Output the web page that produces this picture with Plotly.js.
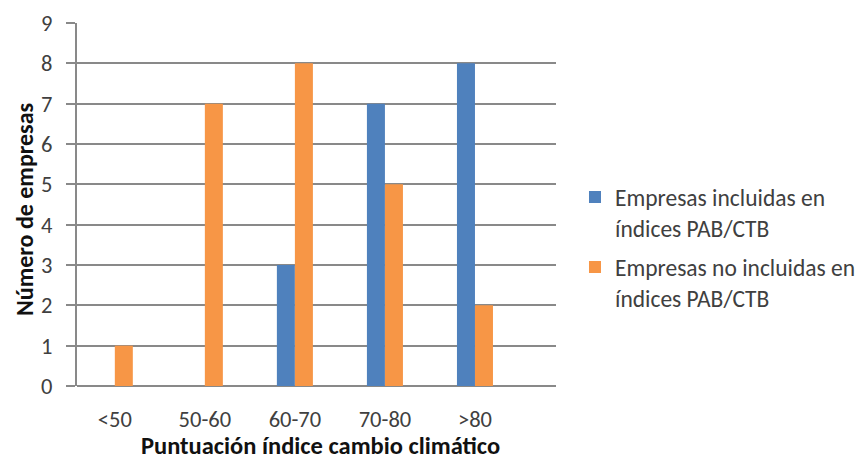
<!DOCTYPE html>
<html>
<head>
<meta charset="utf-8">
<script src="https://cdn.plot.ly/plotly-3.0.1.min.js"></script>
<style>html,body{margin:0;padding:0;background:#fff;}#chart{width:860px;height:462px;}</style>
</head>
<body>
<div id="chart"></div>
<script>
const categories = ["<50", "50-60", "60-70", "70-80", ">80"];
const incluidas = [0, 0, 3, 7, 8];
const noIncluidas = [1, 7, 8, 5, 2];
const seriesNames = ["Empresas incluidas en<br>índices PAB/CTB", "Empresas no incluidas en<br>índices PAB/CTB"];
const yTicks = [0, 1, 2, 3, 4, 5, 6, 7, 8, 9];
const xTitle = "Puntuación índice cambio climático";
const yTitle = "Número de empresas";

const idx = categories.map((c, i) => i);
const font = "Calibri, Carlito, 'Open Sans', sans-serif";

const traces = [
  {type: "bar", x: idx, y: incluidas, name: seriesNames[0], legendgroup: "a", marker: {color: "#4f81bd"}},
  {type: "bar", x: idx, y: noIncluidas, name: seriesNames[1], legendgroup: "b", marker: {color: "#f79646"}}
];

const layout = {
  width: 860, height: 462,
  margin: {l: 77, r: 304, t: 23, b: 76, pad: 0, autoexpand: false},
  paper_bgcolor: "#fff", plot_bgcolor: "#fff",
  barmode: "group", bargap: 0.6, bargroupgap: 0,
  font: {family: font, size: 22.5, color: "#404040"},
  xaxis: {
    tickmode: "array", tickvals: idx, ticktext: categories,
    range: [-0.42, 4.9], showgrid: false, zeroline: false,
    showline: false, ticks: "", ticklabelstandoff: 17, automargin: false,
    tickfont: {family: font, size: 22.5, color: "#404040"}
  },
  yaxis: {
    range: [0, 9], tickmode: "array", tickvals: yTicks, automargin: false,
    showgrid: true, gridcolor: "#898989", gridwidth: 2,
    zeroline: true, zerolinecolor: "#898989", zerolinewidth: 2,
    showline: true, linecolor: "#898989", linewidth: 2,
    ticks: "outside", ticklen: 9, tickcolor: "#898989", tickwidth: 2,
    ticklabelstandoff: 9,
    tickfont: {family: font, size: 22.5, color: "#404040"}
  },
  annotations: [
    {text: "<b>" + xTitle + "</b>", xref: "paper", yref: "paper", x: 0.508, y: -0.165,
     xanchor: "center", yanchor: "middle", showarrow: false,
     font: {family: font, size: 24.5, color: "#111"}},
    {text: "<b>" + yTitle + "</b>", xref: "paper", yref: "paper", x: -0.1107, y: 0.4876,
     xanchor: "center", yanchor: "middle", showarrow: false, textangle: -90,
     font: {family: font, size: 24, color: "#111"}}
  ],
  legend: {
    xref: "container", x: 0.6686, xanchor: "left", y: 0.381, yanchor: "middle",
    valign: "top", traceorder: "grouped",
    font: {family: font, size: 23.5, color: "#404040"},
    tracegroupgap: 6, itemwidth: 30, bgcolor: "rgba(0,0,0,0)"
  },
  showlegend: true
};

Plotly.newPlot("chart", traces, layout, {displayModeBar: false, staticPlot: true});
</script>
</body>
</html>
